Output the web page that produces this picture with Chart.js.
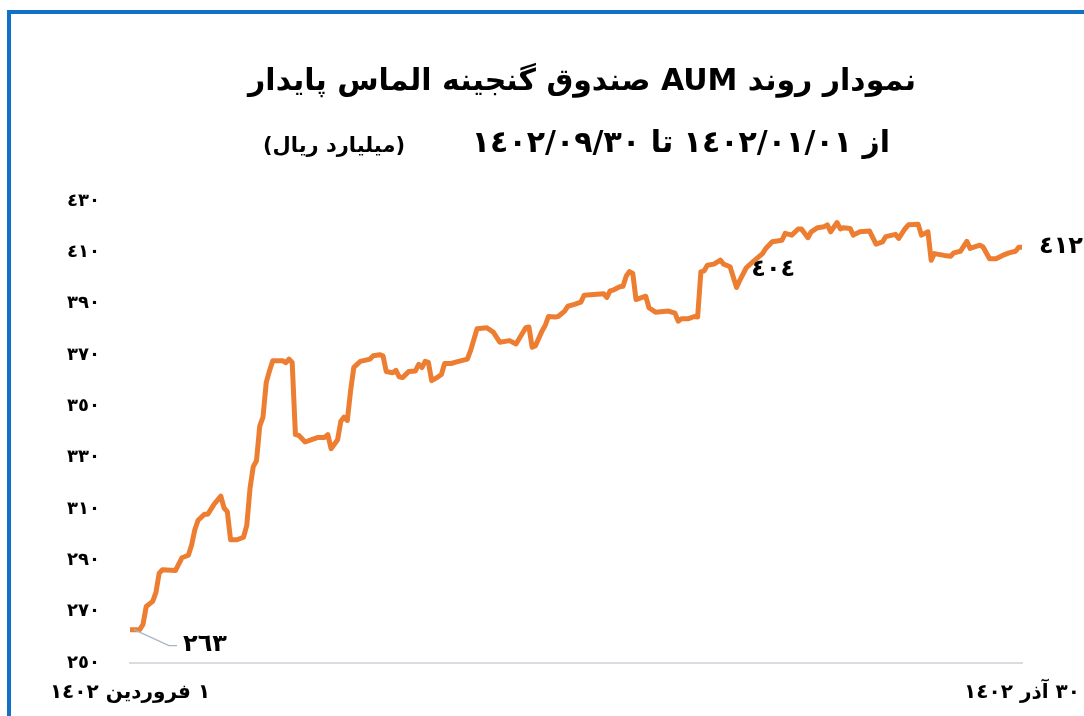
<!DOCTYPE html>
<html>
<head>
<meta charset="utf-8">
<script src="https://cdn.jsdelivr.net/npm/chart.js@4.4.1/dist/chart.umd.min.js"></script>
<style>
  html, body { margin: 0; padding: 0; background: #fff; overflow: hidden; }
  #wrap { position: relative; width: 1084px; height: 716px; }
  #frame { position: absolute; left: 7px; top: 10px; width: 1200px; height: 800px;
           border-left: 4px solid #1171C6; border-top: 4px solid #1171C6; pointer-events: none; }
  canvas { position: absolute; left: 0; top: 0; }
</style>
</head>
<body>
<div id="wrap">
  <canvas id="c" width="1084" height="716"></canvas>
  <div id="frame"></div>
</div>
<script>
// ---- data ----
const titleText = 'نمودار روند AUM صندوق گنجینه الماس پایدار';
const subtitleText = 'از ١٤٠٢/٠١/٠١ تا ١٤٠٢/٠٩/٣٠';
const unitText = '(میلیارد ریال)';
const xTickDays = [0, 275];
const xTickLabels = ['١ فروردین ١٤٠٢', '٣٠ آذر ١٤٠٢'];
const yTickValues = [250, 270, 290, 310, 330, 350, 370, 390, 410, 430];
const days = [0,3,4,5,7,8,9,10,14,16,18,19,20,21,23,24,26,28,29,30,31,33,35,36,37,38,39,40,41,42,43,44,47,48,49,50,51,52,54,56,58,60,61,62,64,65,66,67,68,69,71,74,75,77,78,79,81,82,83,84,86,88,89,90,91,92,93,95,96,97,99,101,104,105,107,110,112,114,117,119,122,123,124,125,127,128,129,131,132,134,135,137,139,140,143,146,147,148,149,151,152,153,154,155,156,159,160,162,166,168,169,170,172,174,175,176,177,178,180,182,183,185,187,188,190,192,195,196,198,201,202,204,206,207,209,210,212,214,215,216,218,219,220,222,223,225,228,230,232,233,236,237,239,240,243,244,246,247,248,251,253,254,256,258,259,262,263,265,267,269,271,273,274,275];
const aum = [263,263,265,272,274,277.5,285,286.3,286,291,292,296,302,305.6,308,308,312,315,310.4,309,298,298,299,303.6,318,326.5,328.8,342.3,345.8,359.3,363.8,367.8,367.8,367,368.4,367.1,339,338.7,336.1,337,337.9,337.9,339,333.5,337,344.2,345.8,344.5,356,365.2,367.5,368.4,369.7,370.1,369.7,363.6,363.1,364,361.5,361.2,363.6,363.8,366.4,365.1,367.5,367.1,360,361.5,362.4,366.7,366.7,367.4,368.4,371.7,380.2,380.6,378.9,375,375.6,374.3,380.6,380.9,373,373.6,379.3,381.5,385,384.8,385,387.1,389,389.7,390.6,393.3,393.6,393.9,392.4,395,395.3,396.6,396.8,400.8,402.5,401.8,391.6,392.9,388.4,386.7,387.1,386.3,383.2,384.1,384.1,385,384.8,402.4,402.8,405,405.4,407,405.4,404.4,396.3,399.1,404,406.3,409.5,411.5,414.1,414.7,417.4,416.7,419.1,419.1,415.7,418,419.6,420,420.7,418,421.6,419.1,419.6,419.3,416.7,418,418.3,413.2,414.1,416.1,417,415.4,419.3,420.7,420.9,416.7,418,406.9,409.5,408.8,408.5,409.8,410.4,414.3,411.5,412.8,412.1,407.5,407.5,408.8,409.8,410.4,412,412];
const labelledDays = [0, 190, 275];

const toArabicDigits = n => String(n).replace(/\d/g, d => '٠١٢٣٤٥٦٧٨٩'[d]);
const FONT = "'DejaVu Sans', 'Noto Sans', sans-serif";

const textPlugin = {
  id: 'texts',
  afterDraw(chart) {
    const ctx = chart.ctx;
    const xs = chart.scales.x;
    ctx.save();
    ctx.direction = 'rtl';
    ctx.fillStyle = '#000';
    ctx.textBaseline = 'middle';
    // title
    ctx.font = 'bold 30px ' + FONT;
    ctx.textAlign = 'center';
    ctx.fillText(titleText, 582, 82);
    // subtitle
    ctx.font = 'bold 30px ' + FONT;
    ctx.textAlign = 'right';
    ctx.fillText(subtitleText, 890, 144);
    ctx.font = 'bold 21px ' + FONT;
    ctx.textAlign = 'center';
    ctx.fillText(unitText, 334, 147);
    // bottom x labels
    ctx.font = 'bold 20px ' + FONT;
    xTickDays.forEach((d, i) => {
      ctx.textAlign = 'center';
      ctx.fillText(xTickLabels[i], xs.getPixelForValue(d), 693);
    });
    // data labels
    const meta = chart.getDatasetMeta(0);
    ctx.font = 'bold 24px ' + FONT;
    labelledDays.forEach((d, k) => {
      const idx = days.indexOf(d);
      const pt = meta.data[idx];
      const txt = toArabicDigits(Math.round(aum[idx]));
      if (k === 0) {
        ctx.strokeStyle = '#A6B4C8';
        ctx.lineWidth = 1.2;
        ctx.beginPath();
        ctx.moveTo(pt.x + 4, pt.y);
        ctx.lineTo(pt.x + 39, pt.y + 16);
        ctx.lineTo(pt.x + 47, pt.y + 16);
        ctx.stroke();
        ctx.textAlign = 'left';
        ctx.fillText(txt, pt.x + 53, pt.y + 15);
      } else if (k === 1) {
        ctx.textAlign = 'left';
        ctx.fillText(txt, pt.x + 5, pt.y + 2);
      } else {
        ctx.textAlign = 'left';
        ctx.fillText(txt, pt.x + 17, pt.y);
      }
    });
    ctx.restore();
  }
};

new Chart(document.getElementById('c'), {
  type: 'line',
  data: {
    datasets: [{
      data: days.map((d, i) => ({ x: d, y: aum[i] })),
      borderColor: '#ED7D31',
      borderWidth: 5,
      pointRadius: 0,
      tension: 0,
      borderJoinStyle: 'round',
      borderCapStyle: 'round'
    }]
  },
  options: {
    responsive: false,
    animation: false,
    devicePixelRatio: 1,
    layout: { padding: { top: 201, right: 62, bottom: 53, left: 0 } },
    plugins: { legend: { display: false }, tooltip: { enabled: false }, title: { display: false } },
    scales: {
      x: {
        type: 'linear',
        min: xTickDays[0], max: xTickDays[1],
        ticks: { display: false },
        grid: { display: false, drawTicks: false },
        border: { display: true, color: '#D9DDE2', width: 2 }
      },
      y: {
        min: 250, max: 430,
        afterBuildTicks: s => { s.ticks = yTickValues.map(v => ({ value: v })); },
        afterFit: s => { s.width = 130; },
        ticks: {
          padding: 30,
          color: '#000',
          font: { family: FONT, size: 18, weight: 'bold' },
          callback: v => toArabicDigits(v)
        },
        grid: { display: false, drawTicks: false },
        border: { display: false }
      }
    }
  },
  plugins: [textPlugin]
});
</script>
</body>
</html>
